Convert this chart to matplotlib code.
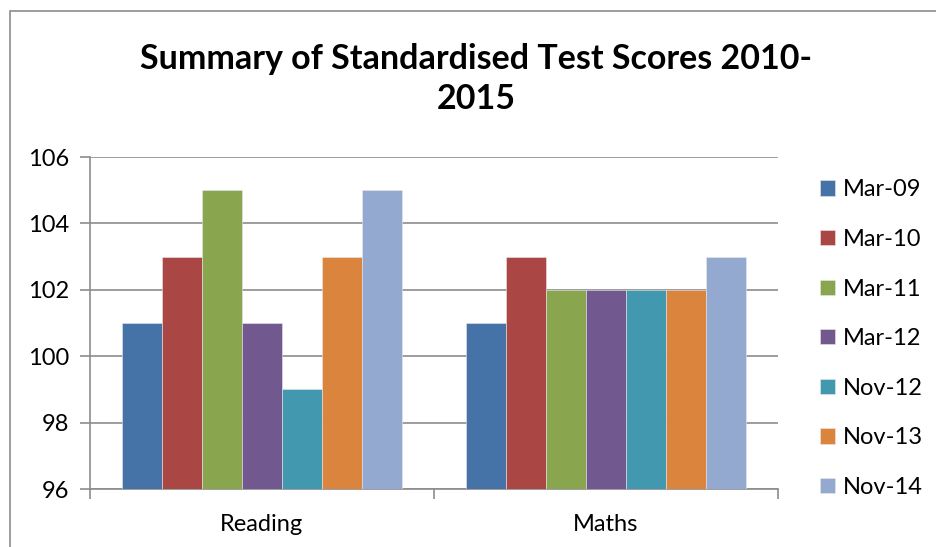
import matplotlib.pyplot as plt
import numpy as np
from matplotlib.patches import Rectangle

categories = ["Reading", "Maths"]
series_names = ["Mar-09", "Mar-10", "Mar-11", "Mar-12", "Nov-12", "Nov-13", "Nov-14"]
reading = [101, 103, 105, 101, 99, 103, 105]
maths = [101, 103, 102, 102, 102, 102, 103]
colors = ["#4572A7", "#AA4643", "#89A54E", "#71588F", "#4198AF", "#DB843D", "#93A9CF"]

plt.rcParams["font.family"] = ["Lato", "DejaVu Sans"]

fig = plt.figure(figsize=(9.36, 5.47), dpi=100)
ax = fig.add_axes([90 / 936, 1 - 489 / 547, 688 / 936, 332 / 547])

# outer chart frame
fig.patches.append(Rectangle((10 / 936, -0.1), 1.1, 1 - 11 / 547 + 0.1, transform=fig.transFigure,
                             fill=False, edgecolor="#8c8c8c", linewidth=1.2))

x = np.arange(len(categories))
width = 0.1163
values = np.array([reading, maths]).T
for i, name in enumerate(series_names):
    ax.bar(x + (i - 3) * width, values[i], width, bottom=0, color=colors[i], label=name,
           edgecolor="#e8e8e8", linewidth=0.4, zorder=3)

ax.set_ylim(96, 106)
ax.set_yticks(range(96, 107, 2))
ax.set_xlim(-0.5, 1.5)
ax.set_xticks(x)
ax.set_xticklabels(categories)
ax.set_xticks([-0.5, 0.5, 1.5], minor=True)
ax.tick_params(axis="x", which="major", length=0, labelsize=17, pad=18)
ax.tick_params(axis="x", which="minor", length=7, color="#8c8c8c", width=1.2)
ax.tick_params(axis="y", length=7, color="#8c8c8c", width=1.2, labelsize=17, pad=8)
ax.grid(axis="y", color="#8c8c8c", linewidth=1.2, zorder=0)
for side in ["top", "right"]:
    ax.spines[side].set_visible(False)
for side in ["left", "bottom"]:
    ax.spines[side].set_color("#8c8c8c")
    ax.spines[side].set_linewidth(1.2)

fig.text(476 / 936, 1 - 79 / 547, "Summary of Standardised Test Scores 2010-\n2015",
         ha="center", va="center", fontsize=24.5, fontweight="bold", linespacing=1.3)

fig.legend(loc="upper left", bbox_to_anchor=(811 / 936, 1 - 170 / 547), frameon=False,
           fontsize=17, handlelength=0.62, handleheight=0.62, handletextpad=0.35,
           labelspacing=1.21, borderaxespad=0)

fig.savefig("out.png", dpi=100)
